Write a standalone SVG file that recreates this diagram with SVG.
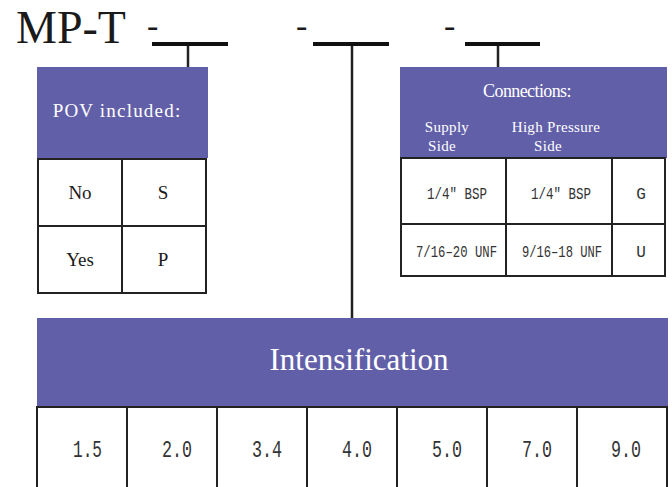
<svg xmlns="http://www.w3.org/2000/svg" width="672" height="487" viewBox="0 0 672 487">
<style>
.hdr{fill:#625fa9}
.cell{fill:#fff;stroke:#222;stroke-width:2}
.serif{font-family:"Liberation Serif","Times New Roman",serif}
.mono{font-family:"Liberation Mono","Courier New",monospace;fill:#333}
.wt{fill:#fff}
.bk{fill:#1a1a1a}
.bar{fill:#111}
.stem{stroke:#222;stroke-width:2.5;fill:none}
.dash{font-family:"Liberation Serif","Times New Roman",serif;font-size:34px;fill:#1a1a1a}
</style>
<rect width="672" height="487" fill="#fff"/>
<g id="title">
<text class="serif bk" x="16" y="43" font-size="46">MP-T</text>
<text class="dash" x="147" y="37">-</text>
<text class="dash" x="296" y="37">-</text>
<text class="dash" x="444" y="37">-</text>
</g>
<g id="connectors">
<rect class="bar" x="152" y="42" width="76" height="4"/>
<rect class="bar" x="313" y="42" width="76" height="4"/>
<rect class="bar" x="465" y="42" width="75" height="4"/>
<line class="stem" x1="188" y1="46" x2="188" y2="67"/>
<line class="stem" x1="352" y1="46" x2="352" y2="318"/>
<line class="stem" x1="498" y1="46" x2="498" y2="67"/>
</g>
<g id="pov">
<rect class="hdr" x="37" y="67" width="171" height="91"/>
<text class="serif wt" x="117" y="117" font-size="19" letter-spacing="1.2" text-anchor="middle">POV included:</text>
<rect class="cell" x="38" y="159" width="84" height="67"/>
<rect class="cell" x="122" y="159" width="84" height="67"/>
<rect class="cell" x="38" y="226" width="84" height="67"/>
<rect class="cell" x="122" y="226" width="84" height="67"/>
<text class="serif bk" x="80" y="199" font-size="19" text-anchor="middle">No</text>
<text class="serif bk" x="163" y="199" font-size="19" text-anchor="middle">S</text>
<text class="serif bk" x="80" y="266" font-size="19" text-anchor="middle">Yes</text>
<text class="serif bk" x="163" y="266" font-size="19" text-anchor="middle">P</text>
</g>
<g id="connections">
<rect class="hdr" x="400" y="67" width="267" height="91"/>
<text class="serif wt" x="527" y="97" font-size="18" letter-spacing="-0.6" text-anchor="middle">Connections:</text>
<text class="serif wt" x="447" y="132" font-size="15" letter-spacing="0.3" text-anchor="middle">Supply</text>
<text class="serif wt" x="442" y="151" font-size="15" letter-spacing="0.3" text-anchor="middle">Side</text>
<text class="serif wt" x="556" y="132" font-size="15" letter-spacing="0.3" text-anchor="middle">High Pressure</text>
<text class="serif wt" x="548" y="151" font-size="15" letter-spacing="0.3" text-anchor="middle">Side</text>
<rect class="cell" x="401" y="158" width="105" height="66"/>
<rect class="cell" x="506" y="158" width="106" height="66"/>
<rect class="cell" x="612" y="158" width="53" height="66"/>
<rect class="cell" x="401" y="224" width="105" height="52"/>
<rect class="cell" x="506" y="224" width="106" height="52"/>
<rect class="cell" x="612" y="224" width="53" height="52"/>
<text class="mono" x="427" y="199" font-size="17" textLength="60" lengthAdjust="spacingAndGlyphs">1/4" BSP</text>
<text class="mono" x="531" y="199" font-size="17" textLength="60" lengthAdjust="spacingAndGlyphs">1/4" BSP</text>
<text class="mono" x="641" y="199" font-size="16" text-anchor="middle">G</text>
<text class="mono" x="416" y="257" font-size="17" textLength="81" lengthAdjust="spacingAndGlyphs">7/16–20 UNF</text>
<text class="mono" x="522" y="257" font-size="17" textLength="80" lengthAdjust="spacingAndGlyphs">9/16–18 UNF</text>
<text class="mono" x="641" y="257" font-size="16" text-anchor="middle">U</text>
</g>
<g id="intensification">
<rect class="hdr" x="37" y="318" width="631" height="88"/>
<text class="serif wt" x="359" y="370" font-size="31" text-anchor="middle">Intensification</text>
<rect class="cell" x="37" y="407" width="90" height="90"/>
<rect class="cell" x="127" y="407" width="90" height="90"/>
<rect class="cell" x="217" y="407" width="90" height="90"/>
<rect class="cell" x="307" y="407" width="90" height="90"/>
<rect class="cell" x="397" y="407" width="90" height="90"/>
<rect class="cell" x="487" y="407" width="90" height="90"/>
<rect class="cell" x="577" y="407" width="90" height="90"/>
<text class="mono" x="73" y="457" font-size="24" textLength="29" lengthAdjust="spacingAndGlyphs">1.5</text>
<text class="mono" x="162" y="457" font-size="24" textLength="30" lengthAdjust="spacingAndGlyphs">2.0</text>
<text class="mono" x="252" y="457" font-size="24" textLength="30" lengthAdjust="spacingAndGlyphs">3.4</text>
<text class="mono" x="342" y="457" font-size="24" textLength="30" lengthAdjust="spacingAndGlyphs">4.0</text>
<text class="mono" x="432" y="457" font-size="24" textLength="30" lengthAdjust="spacingAndGlyphs">5.0</text>
<text class="mono" x="522" y="457" font-size="24" textLength="30" lengthAdjust="spacingAndGlyphs">7.0</text>
<text class="mono" x="611" y="457" font-size="24" textLength="30" lengthAdjust="spacingAndGlyphs">9.0</text>
</g>
</svg>
